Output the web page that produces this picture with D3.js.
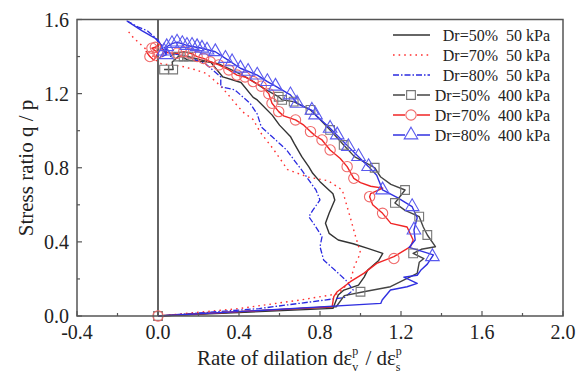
<!DOCTYPE html>
<html><head><meta charset="utf-8">
<script src="https://cdn.jsdelivr.net/npm/d3@7"></script>
<style>body{margin:0;background:#fff}svg{display:block}text{font-family:"Liberation Serif","Times New Roman",serif}</style>
</head><body><svg id="c" width="578" height="384"></svg>
<script>
// ---- data ----
const xTicks = [-0.4, 0.0, 0.4, 0.8, 1.2, 1.6, 2.0];
const yTicks = [0.0, 0.4, 0.8, 1.2, 1.6];
const xTickLabels = ["-0.4","0.0","0.4","0.8","1.2","1.6","2.0"];
const yTickLabels = ["0.0","0.4","0.8","1.2","1.6"];
const seriesNames = ["Dr=50%  50 kPa","Dr=70%  50 kPa","Dr=80%  50 kPa","Dr=50%  400 kPa","Dr=70%  400 kPa","Dr=80%  400 kPa"];

const dr50_50 = [[0.06,1.40],[0.085,1.42],[0.15,1.38],[0.26,1.37],[0.32,1.29],[0.41,1.26],[0.47,1.18],[0.49,1.166],[0.564,1.084],[0.6,1.03],[0.655,0.967],[0.673,0.93],[0.71,0.86],[0.745,0.805],[0.764,0.77],[0.8,0.725],[0.864,0.66],[0.873,0.626],[0.845,0.554],[0.827,0.5],[0.845,0.446],[0.89,0.41],[0.964,0.39],[1.036,0.365],[1.11,0.338],[1.09,0.30],[1.036,0.248],[1.018,0.21],[0.99,0.167],[0.918,0.14],[0.89,0.113],[0.864,0.041],[0,0]];
const dr70_50 = [[-0.145,1.533],[-0.12,1.50],[-0.09,1.47],[-0.06,1.44],[-0.036,1.417],[-0.01,1.38],[0.018,1.36],[0.07,1.355],[0.127,1.345],[0.18,1.33],[0.236,1.31],[0.28,1.27],[0.31,1.24],[0.35,1.19],[0.38,1.15],[0.42,1.10],[0.47,1.06],[0.506,0.99],[0.57,0.9],[0.64,0.79],[0.74,0.75],[0.84,0.73],[0.91,0.68],[0.95,0.53],[0.97,0.45],[1.0,0.34],[0.97,0.27],[0.95,0.19],[0.89,0.12],[0.70,0.086],[0.4,0.04],[0,0]];
const dr80_50 = [[-0.155,1.593],[-0.1,1.56],[-0.054,1.54],[-0.018,1.507],[0,1.48],[0.04,1.44],[0.02,1.40],[0.06,1.42],[0.1,1.41],[0.145,1.40],[0.236,1.36],[0.31,1.29],[0.31,1.237],[0.38,1.22],[0.455,1.147],[0.49,1.09],[0.51,1.02],[0.564,0.967],[0.636,0.895],[0.673,0.84],[0.71,0.787],[0.745,0.733],[0.78,0.68],[0.8,0.626],[0.764,0.57],[0.745,0.536],[0.78,0.48],[0.81,0.428],[0.8,0.374],[0.818,0.302],[0.873,0.248],[0.927,0.194],[0.964,0.14],[0.92,0.1],[0.5,0.04],[0,0]];
const dr50_400 = [[0.03,1.33],[0.075,1.33],[0.07,1.37],[0.10,1.40],[0.15,1.40],[0.22,1.38],[0.30,1.36],[0.38,1.32],[0.45,1.28],[0.52,1.23],[0.596,1.183],[0.613,1.166],[0.67,1.157],[0.72,1.13],[0.753,1.112],[0.8,1.06],[0.85,1.004],[0.917,0.923],[0.97,0.86],[1.02,0.83],[1.07,0.80],[1.10,0.75],[1.15,0.71],[1.22,0.68],[1.17,0.61],[1.22,0.57],[1.29,0.536],[1.31,0.48],[1.33,0.437],[1.37,0.374],[1.30,0.36],[1.26,0.338],[1.313,0.31],[1.29,0.29],[1.28,0.23],[1.148,0.158],[1.016,0.131],[0.92,0.11],[0.88,0.05],[0,0]];
const dr50_400Markers = [[0.03,1.33],[0.075,1.33],[0.10,1.40],[0.127,1.40],[0.15,1.40],[0.596,1.183],[0.613,1.166],[0.67,1.157],[0.753,1.112],[0.85,1.004],[0.917,0.923],[1.07,0.80],[1.22,0.68],[1.17,0.61],[1.29,0.536],[1.33,0.437],[1.26,0.338],[1.0,0.131],[0.0,0.0]];
const dr70_400 = [[-0.06,1.43],[-0.04,1.40],[-0.02,1.38],[0,1.42],[-0.03,1.445],[-0.013,1.45],[0.01,1.47],[0.02,1.44],[0.05,1.42],[0.094,1.418],[0.127,1.426],[0.16,1.418],[0.193,1.40],[0.225,1.39],[0.258,1.372],[0.30,1.355],[0.35,1.328],[0.39,1.30],[0.43,1.29],[0.47,1.265],[0.51,1.24],[0.547,1.20],[0.563,1.148],[0.596,1.103],[0.62,1.08],[0.679,1.058],[0.72,1.03],[0.753,0.995],[0.78,0.97],[0.81,0.95],[0.85,0.896],[0.9,0.85],[0.934,0.806],[0.967,0.743],[1.0,0.72],[1.05,0.70],[1.11,0.69],[1.05,0.66],[1.045,0.644],[1.06,0.60],[1.109,0.554],[1.15,0.50],[1.23,0.48],[1.26,0.41],[1.247,0.374],[1.165,0.32],[1.08,0.284],[1.016,0.23],[0.95,0.185],[0.885,0.131],[0.868,0.104],[0.86,0.05],[0,0]];
const dr70_400Markers = [[-0.03,1.445],[-0.013,1.45],[-0.04,1.40],[0.0,1.42],[0.094,1.418],[0.127,1.426],[0.16,1.418],[0.193,1.40],[0.225,1.39],[0.258,1.372],[0.30,1.355],[0.35,1.328],[0.39,1.30],[0.43,1.29],[0.47,1.265],[0.51,1.24],[0.547,1.20],[0.563,1.148],[0.596,1.103],[0.679,1.058],[0.753,0.995],[0.81,0.95],[0.85,0.896],[0.934,0.806],[0.967,0.743],[1.045,0.644],[1.109,0.554],[1.165,0.31],[0.0,0.0]];
const dr80_400 = [[-0.15,1.59],[-0.08,1.54],[0,1.49],[0.03,1.43],[0.04,1.41],[0.043,1.453],[0.069,1.47],[0.094,1.478],[0.143,1.46],[0.217,1.445],[0.283,1.426],[0.333,1.39],[0.407,1.337],[0.49,1.30],[0.54,1.265],[0.58,1.24],[0.654,1.193],[0.687,1.148],[0.76,1.11],[0.778,1.085],[0.85,1.013],[0.94,0.914],[1.04,0.806],[1.08,0.76],[1.109,0.68],[1.18,0.64],[1.255,0.59],[1.28,0.53],[1.264,0.464],[1.27,0.41],[1.24,0.37],[1.30,0.35],[1.36,0.33],[1.33,0.28],[1.30,0.25],[1.28,0.22],[1.214,0.21],[1.28,0.176],[1.23,0.158],[1.148,0.14],[1.107,0.086],[1.10,0.068],[0.5,0.03],[0,0]];
const dr80_400Markers = [[0.03,1.43],[0.04,1.41],[0.043,1.453],[0.069,1.47],[0.094,1.478],[0.12,1.47],[0.143,1.46],[0.168,1.46],[0.193,1.453],[0.217,1.445],[0.242,1.435],[0.283,1.426],[0.333,1.39],[0.366,1.372],[0.407,1.337],[0.445,1.32],[0.49,1.30],[0.54,1.265],[0.58,1.24],[0.654,1.193],[0.687,1.148],[0.76,1.11],[0.778,1.085],[0.85,1.013],[0.885,0.977],[0.94,0.914],[0.99,0.86],[1.04,0.806],[1.109,0.68],[1.255,0.59],[1.264,0.464],[1.355,0.32]];

// ---- chart ----
const svg = d3.select("#c");
const L = 77, R = 563, T = 19.5, B = 316;
const x = d3.scaleLinear().domain([-0.4, 2.0]).range([L, R]);
const y = d3.scaleLinear().domain([0, 1.6]).range([B, T]);
const line = d3.line().x(d => x(d[0])).y(d => y(d[1]));

const styles = [
  {stroke:"#333", dash:null, w:1.4},
  {stroke:"#ff3030", dash:"1.6,4", w:1.4},
  {stroke:"#2a2ae0", dash:"6,2,1.5,2", w:1.3},
  {stroke:"#444", dash:null, w:1.4, mk:"square", mc:"#777"},
  {stroke:"#f02525", dash:null, w:1.4, mk:"circle", mc:"#f06a6a"},
  {stroke:"#3030e0", dash:null, w:1.4, mk:"triangle", mc:"#5a5aee"}
];
const data = [dr50_50, dr70_50, dr80_50, dr50_400, dr70_400, dr80_400];
const markers = [null, null, null, dr50_400Markers, dr70_400Markers, dr80_400Markers];

const symType = {square: d3.symbolSquare, circle: d3.symbolCircle, triangle: d3.symbolTriangle};
const symSize = {square: 76, circle: 84, triangle: 80};

// zero line
svg.append("line").attr("x1", x(0)).attr("x2", x(0)).attr("y1", y(0)).attr("y2", y(1.6))
  .attr("stroke", "#222").attr("stroke-width", 1.4);

const plot = svg.append("g");
const order = [0,1,2,3,4,5];
order.forEach(i => {
  const s = styles[i];
  plot.append("path").attr("d", line(data[i])).attr("fill","none")
    .attr("stroke", s.stroke).attr("stroke-width", s.w)
    .attr("stroke-dasharray", s.dash).attr("stroke-linejoin","round");
});
order.forEach(i => {
  const s = styles[i];
  if (!markers[i]) return;
  plot.selectAll(null).data(markers[i]).enter().append("path")
    .attr("d", d3.symbol().type(symType[s.mk]).size(symSize[s.mk]))
    .attr("transform", d => `translate(${x(d[0])},${y(d[1])})`)
    .attr("fill", "none").attr("stroke", s.mc).attr("stroke-width", 1.1);
});

// frame
svg.append("rect").attr("x", L).attr("y", T).attr("width", R - L).attr("height", B - T)
  .attr("fill", "none").attr("stroke", "#555").attr("stroke-width", 1.5);

// ticks (inward)
const xMinor = d3.range(-0.2, 2.0, 0.4);
const yMinor = d3.range(0.2, 1.6, 0.4);
xTicks.forEach(v => svg.append("line").attr("x1", x(v)).attr("x2", x(v)).attr("y1", B).attr("y2", B - 5).attr("stroke","#555").attr("stroke-width",1.2));
xMinor.forEach(v => svg.append("line").attr("x1", x(v)).attr("x2", x(v)).attr("y1", B).attr("y2", B - 3).attr("stroke","#555").attr("stroke-width",1.2));
yTicks.forEach(v => svg.append("line").attr("x1", L).attr("x2", L + 5).attr("y1", y(v)).attr("y2", y(v)).attr("stroke","#555").attr("stroke-width",1.2));
yMinor.forEach(v => svg.append("line").attr("x1", L).attr("x2", L + 3).attr("y1", y(v)).attr("y2", y(v)).attr("stroke","#555").attr("stroke-width",1.2));

// tick labels
svg.selectAll(null).data(xTicks).enter().append("text")
  .attr("x", d => x(d)).attr("y", 339).attr("text-anchor","middle")
  .attr("font-size", 20).attr("fill","#222").text((d,i) => xTickLabels[i]);
svg.selectAll(null).data(yTicks).enter().append("text")
  .attr("x", 69).attr("y", d => y(d) + 7).attr("text-anchor","end")
  .attr("font-size", 20).attr("fill","#222").text((d,i) => yTickLabels[i]);

// x axis title with sub/superscripts, laid out piece by piece
const xg = svg.append("g");
const base = 365;
let cx = 197;
function put(txt, size, dy) {
  const t = xg.append("text").attr("x", cx).attr("y", base + dy).attr("font-size", size)
    .attr("fill", "#222").style("white-space","pre").text(txt);
  return t.node().getComputedTextLength();
}
cx += put("Rate of dilation dε", 21, 0);
let w1 = put("p", 12, -10); put("v", 12, 6); cx += Math.max(w1, 7) + 1;
cx += put(" / dε", 21, 0);
put("p", 12, -10); put("s", 12, 6);

svg.append("text").attr("transform", "translate(33,168) rotate(-90)")
  .attr("text-anchor","middle").attr("font-size", 21).attr("fill","#222")
  .text("Stress ratio q / p");

// legend
const lg = svg.append("g");
seriesNames.forEach((name, i) => {
  const s = styles[i];
  const cy = 35 + i * 20;
  lg.append("line").attr("x1", 393).attr("x2", 430).attr("y1", cy).attr("y2", cy)
    .attr("stroke", s.stroke).attr("stroke-width", s.w).attr("stroke-dasharray", s.dash);
  if (s.mk) {
    lg.append("rect").attr("x", 405).attr("y", cy - 6).attr("width", 12).attr("height", 12).attr("fill", "#fff");
    lg.append("path").attr("d", d3.symbol().type(symType[s.mk]).size(symSize[s.mk]))
      .attr("transform", `translate(411,${cy})`).attr("fill","none").attr("stroke", s.mc).attr("stroke-width",1.1);
  }
  lg.append("text").attr("x", 550).attr("y", cy + 6).attr("text-anchor","end")
    .attr("font-size", 16).attr("fill","#222").style("white-space","pre").text(name);
});
</script></body></html>
